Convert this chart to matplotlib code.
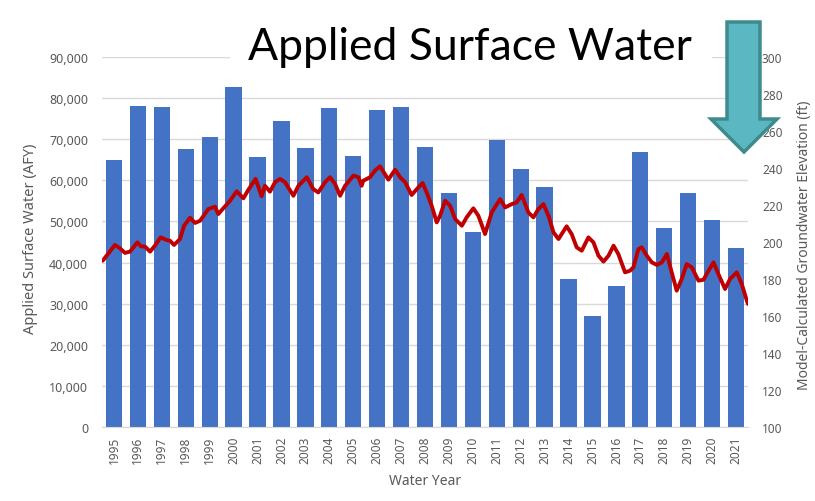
import matplotlib
matplotlib.use("Agg")
import matplotlib.pyplot as plt
from matplotlib.patches import Polygon, Rectangle

# ---- data ----
years = list(range(1995, 2022))
applied_afy = [65000, 78200, 77900, 67600, 70500, 82800, 65600, 74500, 67900, 77700,
               65900, 77100, 77900, 68100, 56800, 47500, 69900, 62800, 58400, 35900,
               26900, 34200, 67000, 48300, 56900, 50400, 43500]

gw_time = [1994.53, 1995.04, 1995.25, 1995.46, 1995.67, 1995.98, 1996.12, 1996.30, 1996.51, 1996.71,
           1996.95, 1997.20, 1997.34, 1997.51, 1997.76, 1997.93, 1998.18, 1998.39, 1998.60, 1998.94,
           1999.22, 1999.36, 1999.57, 1999.85, 2000.13, 2000.41, 2000.62, 2000.92, 2001.17, 2001.31,
           2001.52, 2001.73, 2001.94, 2002.15, 2002.50, 2002.71, 2003.06, 2003.33, 2003.54, 2003.82,
           2004.03, 2004.24, 2004.45, 2004.66, 2005.01, 2005.22, 2005.35, 2005.42, 2005.70, 2005.91,
           2006.12, 2006.47, 2006.75, 2006.96, 2007.17, 2007.44, 2007.72, 2007.90, 2008.07, 2008.28,
           2008.49, 2008.63, 2008.84, 2009.05, 2009.26, 2009.54, 2009.74, 2010.02, 2010.23, 2010.51,
           2010.79, 2011.14, 2011.35, 2011.63, 2011.83, 2012.04, 2012.32, 2012.53, 2012.74, 2012.95,
           2013.16, 2013.37, 2013.58, 2013.92, 2014.13, 2014.34, 2014.55, 2014.83, 2015.04, 2015.25,
           2015.46, 2015.67, 2015.88, 2016.08, 2016.36, 2016.57, 2016.71, 2016.92, 2017.06, 2017.27,
           2017.48, 2017.69, 2017.90, 2018.11, 2018.31, 2018.52, 2018.73, 2018.94, 2019.15, 2019.43,
           2019.64, 2019.85, 2020.06, 2020.26, 2020.54, 2020.75, 2021.03, 2021.24, 2021.45, 2021.50]
gw_elev = [189.9, 198.4, 196.6, 194.1, 194.8, 199.8, 197.7, 197.5, 194.8, 198.0,
           202.5, 201.1, 200.7, 198.4, 201.6, 208.8, 213.1, 210.3, 211.5, 217.8,
           219.1, 215.1, 218.2, 222.3, 227.4, 223.6, 228.3, 234.1, 224.7, 230.4,
           227.2, 232.3, 234.1, 232.3, 225.0, 230.4, 235.0, 228.6, 226.8, 232.3,
           235.0, 231.4, 225.0, 230.4, 235.9, 235.0, 230.4, 233.1, 235.0, 238.6,
           240.9, 233.7, 239.1, 235.0, 232.3, 225.4, 229.5, 231.9, 226.8, 219.6,
           210.6, 214.2, 222.3, 219.6, 212.4, 208.8, 213.3, 218.2, 214.2, 204.3,
           216.0, 223.2, 218.7, 220.5, 221.4, 225.4, 216.0, 213.3, 217.8, 220.5,
           214.2, 205.2, 201.6, 208.5, 204.3, 197.1, 195.3, 202.5, 199.8, 192.6,
           189.4, 192.6, 198.0, 193.5, 183.6, 184.5, 186.3, 196.2, 197.1, 192.6,
           189.0, 187.6, 189.0, 193.5, 183.6, 173.7, 180.0, 188.1, 186.3, 179.1,
           179.6, 184.5, 189.0, 182.7, 174.6, 180.0, 183.6, 177.3, 168.3, 166.5]

title = "Applied Surface Water"
left_label = "Applied Surface Water (AFY)"
right_label = "Model-Calculated Groundwater Elevation (ft)"
x_label = "Water Year"

# ---- figure ----
plt.rcParams["font.family"] = ["Noto Sans", "DejaVu Sans"]
W, H = 815, 502
fig = plt.figure(figsize=(W / 100, H / 100), dpi=100)
fig.patch.set_facecolor("white")

def fx(px):
    return px / W

def fy(py):
    return 1 - py / H

ax = fig.add_axes([fx(102), fy(428), fx(748) - fx(102), fy(58) - fy(428)])
ax2 = ax.twinx()

gray = "#595959"
ax.bar(years, applied_afy, width=0.68, color="#4472C4", zorder=2)
ax.set_xlim(1994.5, 2021.5)
ax.set_ylim(0, 90000)
ax.set_yticks(range(0, 90001, 10000))
ax.set_yticklabels([f"{v:,}" for v in range(0, 90001, 10000)])
ax.set_xticks(years)
ax.set_xticklabels([str(y) for y in years], rotation=90)
ax.grid(axis="y", color="#D9D9D9", linewidth=1, zorder=0)
ax.set_axisbelow(True)
for s in ["top", "left", "right"]:
    ax.spines[s].set_visible(False)
ax.spines["bottom"].set_color("#D9D9D9")
ax.tick_params(axis="x", length=0, colors=gray, labelsize=8.5, pad=6)
ax.tick_params(axis="y", length=0, colors=gray, labelsize=9, pad=10)
ax.set_ylabel(left_label, color=gray, fontsize=10.5)
ax.yaxis.set_label_coords(-0.099, 0.51)
ax.set_xlabel(x_label, color=gray, fontsize=10, labelpad=7)

ax2.plot(gw_time, gw_elev, color="#C00000", linewidth=2.8, solid_capstyle="round", zorder=3)
ax2.set_ylim(100, 300)
ax2.set_yticks(range(100, 301, 20))
for s in ["top", "left", "right", "bottom"]:
    ax2.spines[s].set_visible(False)
ax2.tick_params(axis="y", length=0, colors=gray, labelsize=8.5, pad=10)
ax2.set_ylabel(right_label, color=gray, fontsize=10)
ax2.yaxis.set_label_coords(1.076, 0.495)

# white box behind title
fig.patches.append(Rectangle((fx(230), fy(80)), fx(712) - fx(230), fy(15) - fy(80),
                             transform=fig.transFigure, facecolor="white",
                             edgecolor="none", zorder=5))
fig.text(fx(470), fy(47), title, ha="center", va="center", fontsize=32,
         family="Lato", color="black", zorder=6)

# arrow
pts = [(727, 23), (760, 23), (760, 120), (777, 120), (744, 153), (711, 120), (727, 120)]
fig.patches.append(Polygon([(fx(x), fy(y)) for x, y in pts], closed=True,
                           transform=fig.transFigure, facecolor="#5BB7C1",
                           edgecolor="#3E8A8C", linewidth=2.5, zorder=7))

fig.savefig("out.png", dpi=100)
